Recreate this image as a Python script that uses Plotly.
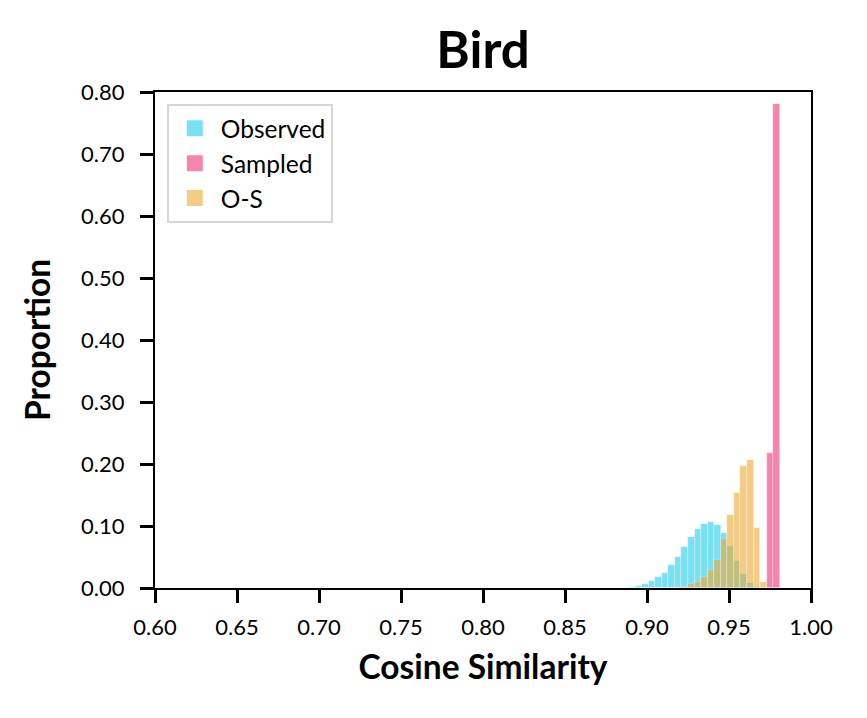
import plotly.graph_objects as go

# Bin centers (bin width 0.004)
bin_width = 0.004
centers = [0.891, 0.895, 0.899, 0.903, 0.907, 0.911, 0.915, 0.919, 0.923, 0.927,
           0.931, 0.935, 0.939, 0.943, 0.947, 0.951, 0.955, 0.959, 0.963, 0.967,
           0.971, 0.975, 0.979]

observed = [0.0016, 0.004, 0.0065, 0.011, 0.018, 0.025, 0.037, 0.050, 0.066, 0.082,
            0.095, 0.104, 0.106, 0.101, 0.088, 0.067, 0.043, 0.023, 0.008, 0.002,
            0.0, 0.0, 0.0]
sampled = [0.0] * 21 + [0.218, 0.780]
o_minus_s = [0.0, 0.0, 0.0, 0.0, 0.0, 0.0, 0.0, 0.0, 0.0016, 0.006,
             0.010, 0.017, 0.029, 0.045, 0.079, 0.118, 0.153, 0.197, 0.207, 0.097,
             0.009, 0.0, 0.0]

x_ticks = [0.60, 0.65, 0.70, 0.75, 0.80, 0.85, 0.90, 0.95, 1.00]
y_ticks = [0.0, 0.1, 0.2, 0.3, 0.4, 0.5, 0.6, 0.7, 0.8]

series = [
    ("Observed", observed, "#22CCEE"),
    ("Sampled", sampled, "#EE3377"),
    ("O-S", o_minus_s, "#EEAA33"),
]

fig = go.Figure()
for name, vals, col in series:
    fig.add_trace(go.Bar(
        x=centers, y=vals, width=bin_width, name=name, showlegend=False,
        marker=dict(color=col, opacity=0.6, line=dict(color="rgba(255,255,255,0.6)", width=0.6)),
    ))
# legend entries (square swatches)
for name, vals, col in series:
    fig.add_trace(go.Scatter(
        x=[None], y=[None], mode="markers", name=name, legendgroup=name,
        marker=dict(symbol="square", size=22, color=col, opacity=0.6),
    ))

axis_common = dict(
    showline=True, linecolor="black", linewidth=2, mirror=True,
    ticks="outside", ticklen=13, tickwidth=2.5, tickcolor="black",
    showgrid=False, zeroline=False,
    tickfont=dict(family="Lato", size=22, color="black"),
)

fig.update_layout(
    width=867, height=718,
    margin=dict(l=155, r=56, t=92, b=130),
    plot_bgcolor="white", paper_bgcolor="white",
    barmode="overlay",
    bargap=0,
    title=dict(text="<b>Bird</b>", x=0.5, xref="paper", xanchor="center",
               y=0.93, yref="container", yanchor="middle",
               font=dict(family="Lato", size=51, color="black")),
    xaxis=dict(range=[0.6, 1.0], tickvals=x_ticks,
               ticktext=[f"{v:.2f}" for v in x_ticks],
               ticklabelstandoff=6,
               title=dict(text="<b>Cosine Similarity</b>", standoff=16,
                          font=dict(family="Lato", size=33.5, color="black")),
               **axis_common),
    yaxis=dict(range=[0, 0.8], tickvals=y_ticks,
               ticktext=[f"{v:.2f}" for v in y_ticks],
               ticklabelstandoff=11,
               title=dict(text="<b>Proportion</b>", standoff=20,
                          font=dict(family="Lato", size=33.5, color="black")),
               **axis_common),
    legend=dict(x=0.018, y=0.976, xanchor="left", yanchor="top",
                bgcolor="white", bordercolor="#d6d6d6", borderwidth=2,
                font=dict(family="Lato", size=24.5, color="black"),
                itemsizing="trace", tracegroupgap=0, itemwidth=42),
    showlegend=True,
)

fig.write_html("out.html")
